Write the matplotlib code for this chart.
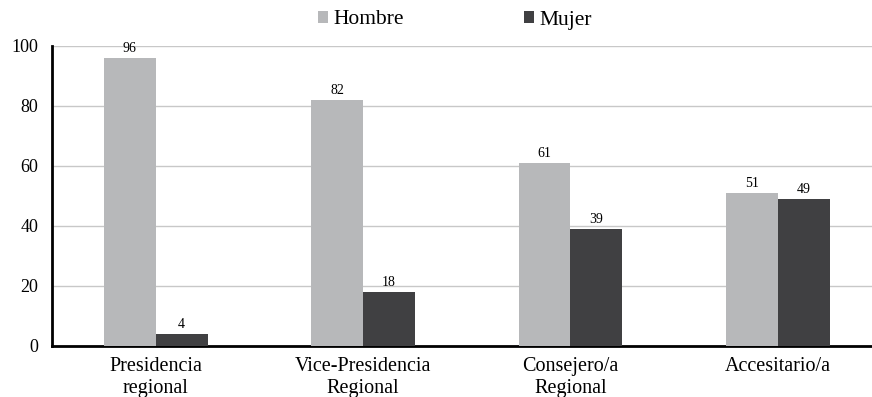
import numpy as np
import matplotlib.pyplot as plt

categorias = ['Presidencia\nregional', 'Vice-Presidencia\nRegional',
              'Consejero/a\nRegional', 'Accesitario/a']
hombre = [96, 82, 61, 51]
mujer = [4, 18, 39, 49]

col_h = '#b7b8ba'
col_m = '#404042'

plt.rcParams['font.family'] = ['Liberation Serif', 'DejaVu Serif']

fig = plt.figure(figsize=(8.72, 3.97), dpi=100)
ax = fig.add_axes([52 / 872, 51 / 397, 820 / 872, 300 / 397])

x = np.arange(len(categorias))
w = 0.25
b1 = ax.bar(x - w / 2, hombre, w, color=col_h, label='Hombre', zorder=3)
b2 = ax.bar(x + w / 2, mujer, w, color=col_m, label='Mujer', zorder=3)

for bars in (b1, b2):
    for r in bars:
        ax.annotate(f'{int(r.get_height())}',
                    (r.get_x() + r.get_width() / 2, r.get_height()),
                    xytext=(0, 2), textcoords='offset points',
                    ha='center', va='bottom', fontsize=10)

ax.set_xlim(-0.5, 3 + 94 / 207)
ax.set_ylim(0, 100)
ax.set_yticks([0, 20, 40, 60, 80, 100])
ax.yaxis.grid(True, color='#c8c8c8', lw=1, zorder=0)
ax.set_axisbelow(True)
ax.set_xticks(x)
ax.set_xticklabels(categorias, fontsize=14.5, linespacing=1.22)
ax.tick_params(axis='y', labelsize=13, length=0, pad=10)
ax.tick_params(axis='x', length=0, pad=8)
for s in ['top', 'right']:
    ax.spines[s].set_visible(False)
ax.spines['left'].set_linewidth(2)
ax.spines['bottom'].set_linewidth(2)

fig.legend(handles=[b1, b2], loc='center', bbox_to_anchor=(455 / 872, 1 - 20 / 397),
           ncol=2, frameon=False, fontsize=15.5, handlelength=0.45, handleheight=0.45,
           handletextpad=0.25, columnspacing=5.6)

fig.savefig('out.png', dpi=100)
